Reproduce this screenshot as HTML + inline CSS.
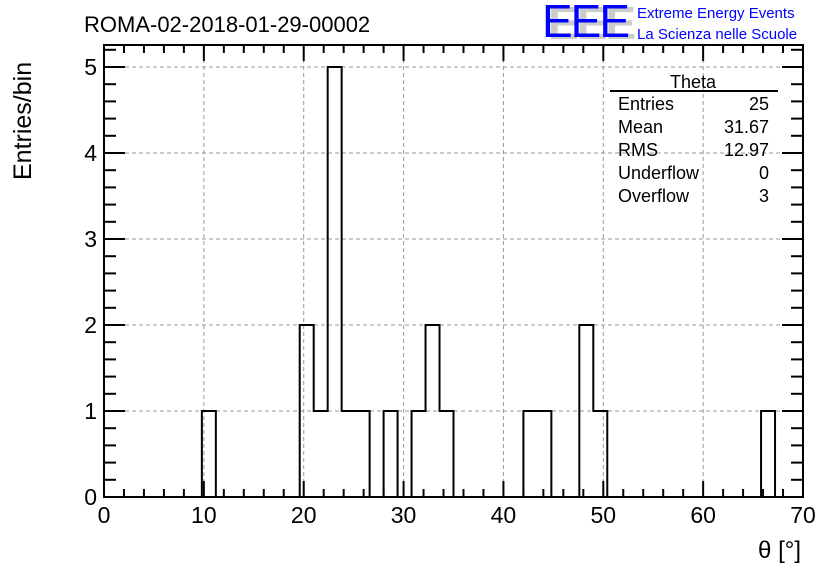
<!DOCTYPE html>
<html><head><meta charset="utf-8"><style>
body{margin:0;background:#fff;}
svg{display:block;font-family:"Liberation Sans",sans-serif;}
</style></head><body>
<svg id="c" width="836" height="572" viewBox="0 0 836 572">
<rect width="836" height="572" fill="#fff"/>
<g id="grid"></g>
<g id="bars"></g>
<g id="axes"></g>
<text x="84" y="32" font-size="22">ROMA-02-2018-01-29-00002</text>
<g>
<text x="548" y="39" font-size="46" fill="#ccc" font-weight="bold" letter-spacing="-2">EEE</text>
<text x="542" y="37" font-size="46" fill="#0000ff" letter-spacing="-2">EEE</text>
<text x="637" y="18" font-size="15" fill="#0000ff">Extreme Energy Events</text>
<text x="637" y="39" font-size="15" fill="#0000ff">La Scienza nelle Scuole</text>
</g>
<text x="0" y="0" font-size="25" transform="translate(31,180) rotate(-90)">Entries/bin</text>
<text x="801" y="558" font-size="24" text-anchor="end">θ [°]</text>
<g font-size="18">
<text x="693" y="88" text-anchor="middle">Theta</text>
<line x1="610" y1="91" x2="778" y2="91" stroke="#000" stroke-width="2"/>
<text x="618" y="110">Entries</text><text x="769" y="110" text-anchor="end">25</text>
<text x="618" y="133">Mean</text><text x="769" y="133" text-anchor="end">31.67</text>
<text x="618" y="156">RMS</text><text x="769" y="156" text-anchor="end">12.97</text>
<text x="618" y="179">Underflow</text><text x="769" y="179" text-anchor="end">0</text>
<text x="618" y="202">Overflow</text><text x="769" y="202" text-anchor="end">3</text>
</g>
</svg>
<script>
const binWidth = 1.4;
const binCounts = [0,0,0,0,0,0,0,1,0,0,0,0,0,0,2,1,5,1,1,0,1,0,1,2,1,0,0,0,0,0,1,1,0,0,2,1,0,0,0,0,0,0,0,0,0,0,0,1,0,0];
const xTicks = [0,10,20,30,40,50,60,70];
const yTicks = [0,1,2,3,4,5];
const X0=104,X1=803,Y0=497,Y1=45;
const xs=v=>X0+(v-0)/70*(X1-X0);
const ys=v=>Y0-v*86;
const NS="http://www.w3.org/2000/svg";
function mk(tag,attrs,parent){const e=document.createElementNS(NS,tag);for(const k in attrs)e.setAttribute(k,attrs[k]);parent.appendChild(e);return e;}
const grid=document.getElementById('grid'),bars=document.getElementById('bars'),axes=document.getElementById('axes');
xTicks.forEach(t=>{if(t>0&&t<70){const l=mk('line',{x1:xs(t),x2:xs(t),y1:Y0,y2:Y1,stroke:'#999','stroke-dasharray':'4,3','stroke-width':1},grid);

}});
yTicks.forEach(t=>{if(t>0){const l=mk('line',{x1:X0,x2:X1,y1:ys(t),y2:ys(t),stroke:'#999','stroke-dasharray':'4,3','stroke-width':1},grid);

}});
let d='M'+xs(0)+','+ys(0);
binCounts.forEach((c,i)=>{const a=xs(i*binWidth),b=xs((i+1)*binWidth);d+=' L'+a+','+ys(c)+' L'+b+','+ys(c);});
d+=' L'+xs(binCounts.length*binWidth)+','+ys(0);
const p=mk('path',{d:d,fill:'none',stroke:'#000','stroke-width':2},bars);


const fr=mk('rect',{x:X0,y:Y1,width:X1-X0,height:Y0-Y1,fill:'none',stroke:'#000','stroke-width':2},axes);


for(let v=0;v<=70;v+=2){const maj=v%10===0,L=maj?16:8;
mk('line',{x1:xs(v),x2:xs(v),y1:Y0,y2:Y0-L,stroke:'#000','stroke-width':2},axes);
mk('line',{x1:xs(v),x2:xs(v),y1:Y1,y2:Y1+L,stroke:'#000','stroke-width':2},axes);}
for(let k=0;k<=26;k++){const v=k*0.2;const y=ys(v);if(y<Y1)break;const maj=k%5===0,L=maj?21:12;
mk('line',{x1:X0,x2:X0+L,y1:y,y2:y,stroke:'#000','stroke-width':2},axes);
mk('line',{x1:X1,x2:X1-L,y1:y,y2:y,stroke:'#000','stroke-width':2},axes);}
xTicks.forEach(t=>{const e=mk('text',{x:xs(t),y:523,'font-size':23,'text-anchor':'middle'},axes);e.textContent=t;

});
yTicks.forEach(t=>{const e=mk('text',{x:97,y:ys(t)+8,'font-size':23,'text-anchor':'end'},axes);e.textContent=t;

});
</script>
</body></html>
